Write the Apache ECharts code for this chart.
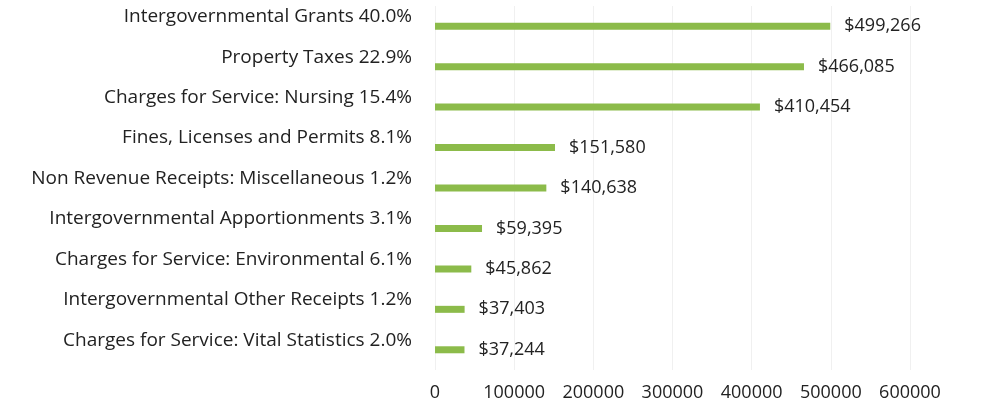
<!DOCTYPE html>
<html>
<head>
<meta charset="utf-8">
<script src="https://cdn.jsdelivr.net/npm/echarts@6/dist/echarts.min.js"></script>
<style>
  html, body { margin: 0; padding: 0; background: #fff; }
  #chart { width: 1000px; height: 406px; }
</style>
</head>
<body>
<div id="chart"></div>
<script>
// top to bottom, as in the picture
const categories = [
  'Intergovernmental Grants 40.0%',
  'Property Taxes 22.9%',
  'Charges for Service: Nursing 15.4%',
  'Fines, Licenses and Permits 8.1%',
  'Non Revenue Receipts: Miscellaneous 1.2%',
  'Intergovernmental Apportionments 3.1%',
  'Charges for Service: Environmental 6.1%',
  'Intergovernmental Other Receipts 1.2%',
  'Charges for Service: Vital Statistics 2.0%'
]
const revenue = [499266, 466085, 410454, 151580, 140638, 59395, 45862, 37403, 37244]
const xTicks = [0, 100000, 200000, 300000, 400000, 500000, 600000]

const font = '"Open Sans", sans-serif'
const chart = echarts.init(document.getElementById('chart'))

chart.setOption({
  backgroundColor: '#fff',
  animation: false,
  grid: { top: 6, bottom: 36, left: 435, right: 90, containLabel: false },
  xAxis: {
    type: 'value',
    min: xTicks[0],
    max: xTicks[xTicks.length - 1],
    interval: xTicks[1] - xTicks[0],
    axisLine: { show: false },
    axisTick: { show: false },
    splitLine: { lineStyle: { color: '#f0f0f0' } },
    axisLabel: {
      color: '#222',
      fontFamily: font,
      fontSize: 18,
      margin: 14,
      formatter: v => String(v)
    }
  },
  yAxis: {
    type: 'category',
    data: categories,
    inverse: true,
    axisLine: { show: false },
    axisTick: { show: false },
    axisLabel: {
      color: '#222',
      fontFamily: font,
      fontSize: 19,
      margin: 23,
      verticalAlign: 'bottom',
      padding: [0, 0, 0, 0]
    }
  },
  series: [{
    type: 'bar',
    data: revenue,
    barWidth: 7,
    itemStyle: { color: '#8cbb4a' },
    label: {
      show: true,
      position: 'right',
      distance: 14,
      color: '#222',
      fontFamily: font,
      fontSize: 18,
      formatter: p => '$' + p.value.toLocaleString('en-US')
    }
  }]
})
</script>
</body>
</html>
